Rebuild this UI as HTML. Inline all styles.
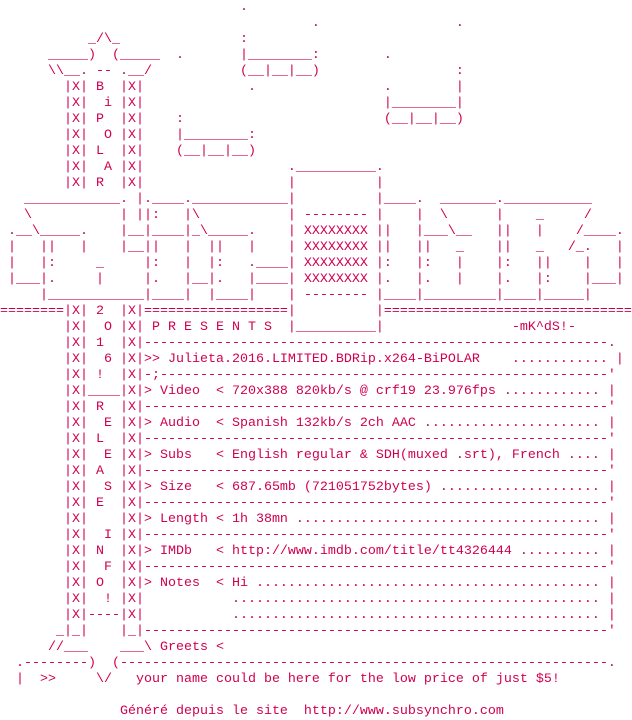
<!DOCTYPE html>
<html><head><meta charset="utf-8"><style>
html,body{margin:0;padding:0;background:#fff;width:632px;height:720px;overflow:hidden}
pre{margin:0;font-family:"Liberation Mono",monospace;font-size:13.333px;line-height:16px;color:#d0004f;white-space:pre}
</style></head><body><pre>                              .
                                       .                 .
           _/\_               :
      _____)  (_____  .       |________:        .
      \\__. -- .__/           (__|__|__)                 :
        |X| B  |X|             .                .        |
        |X|  i |X|                              |________|
        |X| P  |X|    :                         (__|__|__)
        |X|  O |X|    |________:
        |X| L  |X|    (__|__|__)
        |X|  A |X|                  .__________.
        |X| R  |X|                  |          |
   ____________. |.____.____________|          |____.  _______.___________
   \           | ||:   |\           | -------- |    |  \      |    _     /
 .__\_____.    |__|____|_\_____.    | XXXXXXXX ||   |___\__   ||   |    /____.
 |   ||   |    |__||   |  ||   |    | XXXXXXXX ||   ||   _    ||   _   /_.   |
 |   |:     _     |:   |  |:   .____| XXXXXXXX |:   |:   |    |:   ||    |   |
 |___|.     |     |.   |__|.   |____| XXXXXXXX |.   |.   |    |.   |:    |___|
     |____________|____|  |____|    | -------- |____|_________|____|_____|
========|X| 2  |X|==================|          |===============================
        |X|  O |X| P R E S E N T S  |__________|                -mK^dS!-
        |X| 1  |X|----------------------------------------------------------.
        |X|  6 |X|&gt;&gt; Julieta.2016.LIMITED.BDRip.x264-BiPOLAR    ............ |
        |X| !  |X|-;--------------------------------------------------------'
        |X|____|X|&gt; Video  &lt; 720x388 820kb/s @ crf19 23.976fps ............ |
        |X| R  |X|----------------------------------------------------------'
        |X|  E |X|&gt; Audio  &lt; Spanish 132kb/s 2ch AAC ...................... |
        |X| L  |X|----------------------------------------------------------'
        |X|  E |X|&gt; Subs   &lt; English regular &amp; SDH(muxed .srt), French .... |
        |X| A  |X|----------------------------------------------------------'
        |X|  S |X|&gt; Size   &lt; 687.65mb (721051752bytes) .................... |
        |X| E  |X|----------------------------------------------------------'
        |X|    |X|&gt; Length &lt; 1h 38mn ...................................... |
        |X|  I |X|----------------------------------------------------------'
        |X| N  |X|&gt; IMDb   &lt; http://www.imdb.com/title/tt4326444 .......... |
        |X|  F |X|----------------------------------------------------------'
        |X| O  |X|&gt; Notes  &lt; Hi ........................................... |
        |X|  ! |X|           .............................................. |
        |X|----|X|           .............................................. |
       _|_|    |_|----------------------------------------------------------'
      //___    ___\ Greets &lt;
  .--------)  (-------------------------------------------------------------.
  |  &gt;&gt;     \/   your name could be here for the low price of just $5!

               Généré depuis le site  http://www.subsynchro.com</pre></body></html>
